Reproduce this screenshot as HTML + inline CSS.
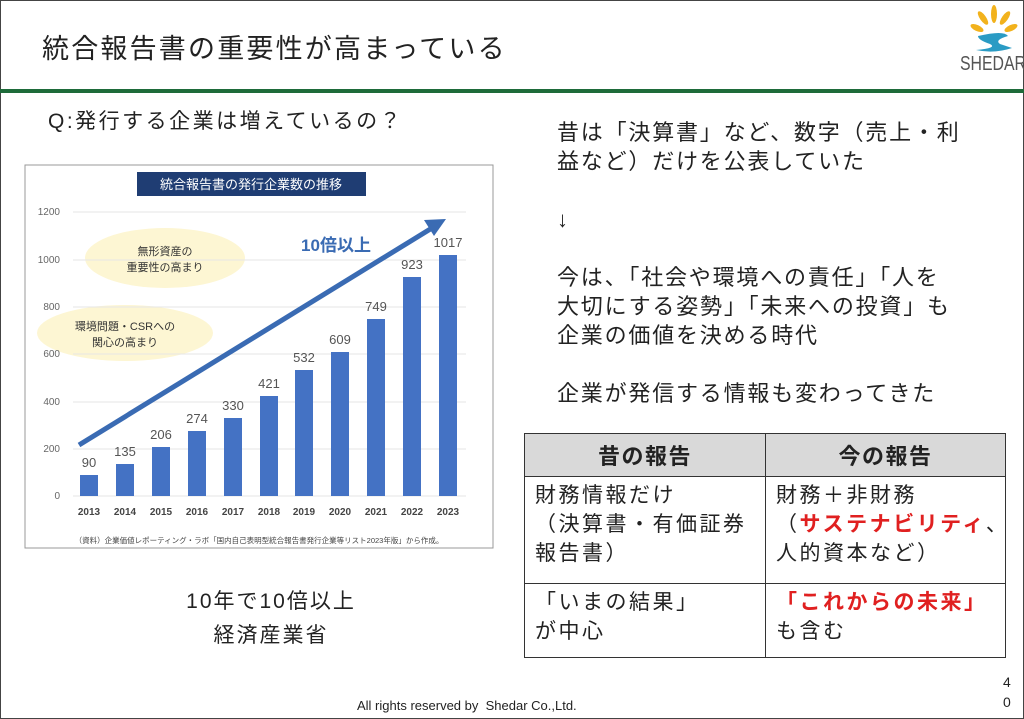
<!DOCTYPE html>
<html><head><meta charset="utf-8"><style>
*{margin:0;padding:0;box-sizing:border-box}
body{width:1024px;height:719px;overflow:hidden;background:#fff;font-family:"Liberation Sans","Noto Sans CJK JP",sans-serif;color:#222;position:relative}
.a{position:absolute;white-space:nowrap}
table{position:absolute;left:524px;top:433px;width:482px;border-collapse:collapse;font-size:21px;letter-spacing:2.5px;table-layout:fixed}
td{border:1.5px solid #333;vertical-align:top;padding:4px 0 4px 10px;line-height:29px;overflow:visible}
th{border:1.5px solid #333;background:#d9d9d9;height:43px;font-size:22px;letter-spacing:1.5px}
.r{color:#e02020;font-weight:bold}
</style></head><body>
<div style="position:absolute;left:0;top:0;width:1024px;height:719px;border:1px solid #444"></div>
<div class="a" style="left:42px;top:27px;font-size:27px;letter-spacing:2.2px;color:#222">統合報告書の重要性が高まっている</div>
<div style="position:absolute;left:0;top:89px;width:1024px;height:4px;background:#1e6b3a"></div>
<svg class="a" style="left:960px;top:2px" width="64" height="72" viewBox="0 0 64 72">
<g fill="#f2b21c"><ellipse cx="34" cy="12" rx="3" ry="9"/><ellipse cx="23" cy="16" rx="3" ry="8" transform="rotate(-35 23 16)"/><ellipse cx="45" cy="16" rx="3" ry="8" transform="rotate(35 45 16)"/><ellipse cx="17" cy="26" rx="3" ry="7" transform="rotate(-65 17 26)"/><ellipse cx="51" cy="26" rx="3" ry="7" transform="rotate(65 51 26)"/></g>
<path d="M18 34 Q44 28 48 34 Q34 38 40 42 L52 46 Q34 52 16 48 Q38 46 30 42 Q18 38 18 34Z" fill="#2a9bc4"/>
<text x="0" y="68" font-size="20" fill="#555" font-family="Liberation Sans" textLength="66" lengthAdjust="spacingAndGlyphs">SHEDAR</text></svg>
<div class="a" style="left:48px;top:105px;font-size:21px;letter-spacing:2.5px">Q:発行する企業は増えているの？</div>
<svg class="a" style="left:0;top:0" width="1024" height="719">
<rect x="25" y="165" width="468" height="383" fill="#fff" stroke="#999"/>
<rect x="137" y="172" width="229" height="24" fill="#1f3d73"/>
<text x="251" y="189" font-size="13" fill="#fff" text-anchor="middle">統合報告書の発行企業数の推移</text>
<ellipse cx="165" cy="258" rx="80" ry="30" fill="#fdf6d3"/>
<ellipse cx="125" cy="333" rx="88" ry="28" fill="#fdf6d3"/>
<text x="165" y="255" font-size="11" text-anchor="middle" fill="#333">無形資産の</text>
<text x="165" y="271" font-size="11" text-anchor="middle" fill="#333">重要性の高まり</text>
<text x="125" y="330" font-size="11" text-anchor="middle" fill="#333">環境問題・CSRへの</text>
<text x="125" y="346" font-size="11" text-anchor="middle" fill="#333">関心の高まり</text>
<g stroke="#e6e6e6" stroke-width="1">
<line x1="73" x2="466" y1="496" y2="496"/><line x1="73" x2="466" y1="449" y2="449"/><line x1="73" x2="466" y1="402" y2="402"/><line x1="73" x2="466" y1="354" y2="354"/><line x1="73" x2="466" y1="307" y2="307"/><line x1="73" x2="466" y1="260" y2="260"/><line x1="73" x2="466" y1="212" y2="212"/></g>
<g font-size="10" fill="#666" text-anchor="end">
<text x="60" y="499">0</text><text x="60" y="452">200</text><text x="60" y="405">400</text><text x="60" y="357">600</text><text x="60" y="310">800</text><text x="60" y="263">1000</text><text x="60" y="215">1200</text></g>
<g fill="#4472c4">
<rect x="80" y="475" width="18" height="21"/><rect x="116" y="464" width="18" height="32"/><rect x="152" y="447" width="18" height="49"/><rect x="188" y="431" width="18" height="65"/><rect x="224" y="418" width="18" height="78"/><rect x="260" y="396" width="18" height="100"/><rect x="295" y="370" width="18" height="126"/><rect x="331" y="352" width="18" height="144"/><rect x="367" y="319" width="18" height="177"/><rect x="403" y="277" width="18" height="219"/><rect x="439" y="255" width="18" height="241"/></g>
<g font-size="13" fill="#555" text-anchor="middle">
<text x="89" y="467">90</text><text x="125" y="456">135</text><text x="161" y="439">206</text><text x="197" y="423">274</text><text x="233" y="410">330</text><text x="269" y="388">421</text><text x="304" y="362">532</text><text x="340" y="344">609</text><text x="376" y="311">749</text><text x="412" y="269">923</text><text x="448" y="247">1017</text></g>
<g font-size="10" font-weight="bold" fill="#444" text-anchor="middle">
<text x="89" y="515">2013</text><text x="125" y="515">2014</text><text x="161" y="515">2015</text><text x="197" y="515">2016</text><text x="233" y="515">2017</text><text x="269" y="515">2018</text><text x="304" y="515">2019</text><text x="340" y="515">2020</text><text x="376" y="515">2021</text><text x="412" y="515">2022</text><text x="448" y="515">2023</text></g>
<line x1="79" y1="445" x2="432" y2="228" stroke="#3a6bb3" stroke-width="5"/>
<polygon points="446,219 424,220 434,236" fill="#3a6bb3"/>
<text x="336" y="251" font-size="17" font-weight="bold" fill="#3a6bb3" text-anchor="middle">10倍以上</text>
<text x="259" y="543" font-size="7.5" fill="#444" text-anchor="middle">（資料）企業価値レポーティング・ラボ「国内自己表明型統合報告書発行企業等リスト2023年版」から作成。</text>
</svg>
<div class="a" style="left:271px;top:585px;transform:translateX(-50%);font-size:21px;letter-spacing:2px;text-align:center;line-height:34px">10年で10倍以上<br>経済産業省</div>
<div class="a" style="left:557px;top:118px;font-size:22px;letter-spacing:1.8px;line-height:29px">昔は「決算書」など、数字（売上・利<br>益など）だけを公表していた<br><br>↓<br><br>今は、「社会や環境への責任」「人を<br>大切にする姿勢」「未来への投資」も<br>企業の価値を決める時代<br><br>企業が発信する情報も変わってきた</div>
<table>
<tr><th style="width:241px">昔の報告</th><th>今の報告</th></tr>
<tr style="height:107px"><td style="white-space:nowrap">財務情報だけ<br>（決算書・有価証券<br>報告書）</td><td style="white-space:nowrap">財務＋非財務<br>（<span class="r">サステナビリティ</span>、<br>人的資本など）</td></tr>
<tr style="height:74px"><td>「いまの結果」<br>が中心</td><td style="white-space:nowrap"><span class="r">「これからの未来」</span><br>も含む</td></tr>
</table>
<div class="a" style="left:357px;top:698px;font-size:13px;color:#222">All rights reserved by &nbsp;Shedar Co.,Ltd.</div>
<div class="a" style="left:1003px;top:672px;font-size:14px;line-height:20px">4<br>0</div>
</body></html>
